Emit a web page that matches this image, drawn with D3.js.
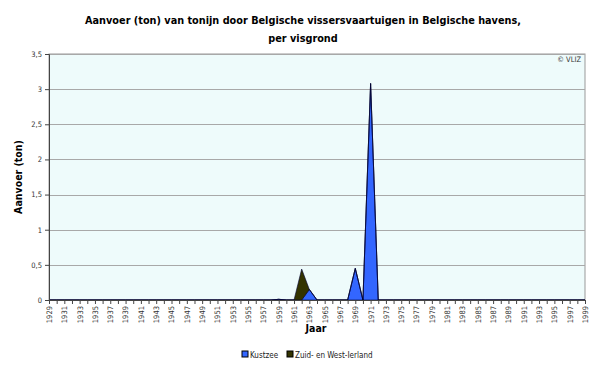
<!DOCTYPE html>
<html>
<head>
<meta charset="utf-8">
<script src="https://cdn.jsdelivr.net/npm/d3@7"></script>
<style>
  body { margin: 0; background: #fff; }
  svg text { font-family: "DejaVu Sans Condensed", "Liberation Sans", sans-serif; }
</style>
</head>
<body>
<div id="chart"></div>
<script>
// years 1929..1999, values (ton)
var years = d3.range(1929, 2000);
var seriesNames = ["Kustzee", "Zuid- en West-Ierland"];
var seriesColors = ["#3366ff", "#333300"];
var kustzeeYears = [1959, 1963, 1969, 1971];
var kustzeeVals  = [0.01, 0.15, 0.45, 3.08];
var ierlandYears = [1962];
var ierlandVals  = [0.44];
var yTicks = [0, 0.5, 1, 1.5, 2, 2.5, 3, 3.5];

function renderChart() {
    var outerWidth = 600, outerHeight = 368;
    var margin = {top: 54, right: 15, bottom: 68, left: 49};
    var width = outerWidth - margin.left - margin.right,
        height = outerHeight - margin.top - margin.bottom;

    var data = years.map(function(y) {
        var i = kustzeeYears.indexOf(y), j = ierlandYears.indexOf(y);
        return {
            year: y,
            "Kustzee": i < 0 ? 0 : kustzeeVals[i],
            "Zuid- en West-Ierland": j < 0 ? 0 : ierlandVals[j]
        };
    });

    var x = d3.scaleLinear()
        .domain([1929, 1999])
        .range([0, width]);

    var y = d3.scaleLinear()
        .domain([0, 3.5])
        .range([height, 0]);

    var stack = d3.stack().keys(seriesNames);
    var layers = stack(data);

    var area = d3.area()
        .x(function(d) { return x(d.data.year); })
        .y0(function(d) { return y(d[0]); })
        .y1(function(d) { return y(d[1]); });

    var svg = d3.select("#chart").append("svg")
        .attr("width", outerWidth)
        .attr("height", outerHeight);

    // title
    svg.append("text")
        .attr("x", 303).attr("y", 24)
        .attr("text-anchor", "middle")
        .style("font-size", "10.8px").style("font-weight", "bold")
        .text("Aanvoer (ton) van tonijn door Belgische vissersvaartuigen in Belgische havens,");
    svg.append("text")
        .attr("x", 303).attr("y", 42)
        .attr("text-anchor", "middle")
        .style("font-size", "10.8px").style("font-weight", "bold")
        .text("per visgrond");

    var g = svg.append("g")
        .attr("transform", "translate(" + margin.left + "," + margin.top + ")");

    g.append("rect")
        .attr("width", width).attr("height", height)
        .style("fill", "#eefbfb")
        .style("stroke", "#999")
        .style("stroke-width", 1);

    g.selectAll(".grid")
        .data(yTicks.slice(1))
        .enter().append("line")
        .attr("class", "grid")
        .attr("x1", 0).attr("x2", width)
        .attr("y1", function(d) { return Math.round(y(d)) + 0.5; })
        .attr("y2", function(d) { return Math.round(y(d)) + 0.5; })
        .style("stroke", "#a8a8a8");

    g.selectAll(".layer")
        .data(layers)
        .enter().append("path")
        .attr("class", "layer")
        .attr("d", area)
        .style("fill", function(d, i) { return seriesColors[i]; })
        .style("stroke", "#000033")
        .style("stroke-width", 0.6);

    var yAxis = d3.axisLeft(y)
        .tickValues(yTicks)
        .tickSize(4)
        .tickFormat(function(d) { return String(d).replace(".", ","); });

    var yg = g.append("g")
        .attr("class", "y axis")
        .call(yAxis);
    yg.selectAll("text").style("font-size", "7.5px").style("fill", "#333");
    yg.selectAll("line, path").style("stroke", "#444");

    var xAxis = d3.axisBottom(x)
        .tickValues(years)
        .tickSize(4)
        .tickFormat(function(d) { return (d - 1929) % 2 === 0 ? d : ""; });

    var xg = g.append("g")
        .attr("class", "x axis")
        .attr("transform", "translate(0," + height + ")")
        .call(xAxis);
    xg.selectAll("line, path").style("stroke", "#444");
    xg.selectAll("text")
        .style("font-size", "7.5px").style("fill", "#333")
        .attr("text-anchor", "end")
        .attr("transform", "rotate(-90)")
        .attr("x", -6).attr("y", 0).attr("dy", "0.32em");

    g.append("text")
        .attr("x", width - 4).attr("y", 8)
        .attr("text-anchor", "end")
        .style("font-size", "7.5px").style("fill", "#333")
        .text("© VLIZ");

    svg.append("text")
        .attr("x", 316).attr("y", 332)
        .attr("text-anchor", "middle")
        .style("font-size", "10.5px").style("font-weight", "bold")
        .text("Jaar");

    svg.append("text")
        .attr("transform", "translate(22," + (margin.top + height / 2) + ") rotate(-90)")
        .attr("text-anchor", "middle")
        .style("font-size", "10.5px").style("font-weight", "bold")
        .text("Aanvoer (ton)");

    // legend
    var legend = svg.append("g").attr("transform", "translate(242,351)");
    var offs = [0, 45];
    seriesNames.forEach(function(n, i) {
        var lg = legend.append("g").attr("transform", "translate(" + offs[i] + ",0)");
        lg.append("rect")
            .attr("width", 6).attr("height", 6)
            .style("fill", seriesColors[i]).style("stroke", "#000");
        lg.append("text")
            .attr("x", 8).attr("y", 6.5)
            .style("font-size", "8px").style("fill", "#222")
            .text(n);
    });
}

renderChart();
</script>
</body>
</html>
